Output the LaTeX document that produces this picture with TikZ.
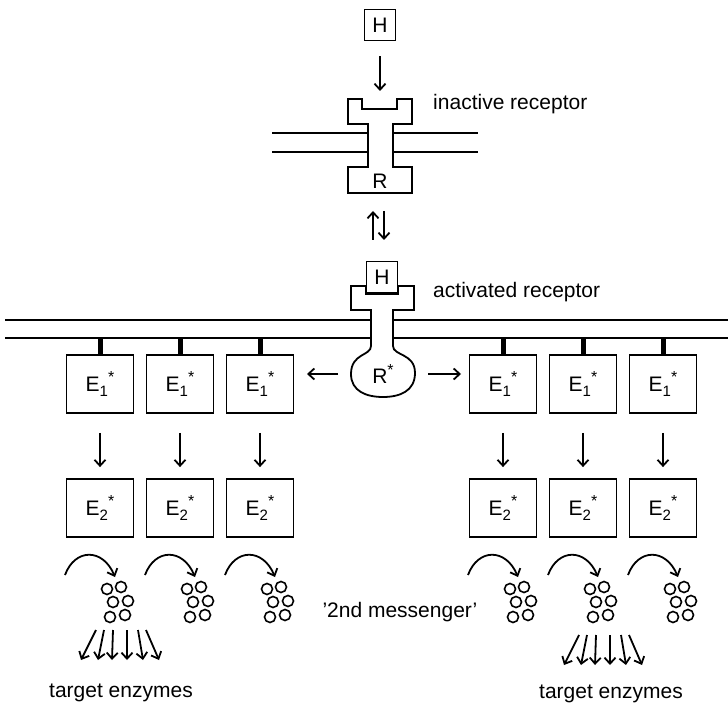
\documentclass[tikz,border=0pt]{standalone}
\usepackage{fontspec}
\setmainfont{Liberation Sans}
\usetikzlibrary{arrows.meta, positioning, calc}
\newcommand{\enz}[1]{E\raisebox{-0.45ex}{\fontsize{15}{15}\selectfont #1}\raisebox{0.75ex}{\fontsize{16}{16}\selectfont *}}

\begin{document}
\begin{tikzpicture}[x=1pt, y=-1pt, line width=1.8pt, >={Straight Barb[length=6pt,width=11pt]},
    ebox/.style={draw, fill=white, minimum width=67pt, minimum height=58pt, inner sep=0pt, font=\fontsize{21}{24}\selectfont},
    hbox/.style={draw, fill=white, minimum size=31pt, inner sep=0pt, font=\fontsize{21}{21}\selectfont},
    lbl/.style={font=\fontsize{21}{24}\selectfont},
    bead/.style={line width=1.6pt}]
    \useasboundingbox (0,0) rectangle (728,708);

    % hormon und inaktiver Rezeptor
    \node[hbox] (h0) at (380,25) {H};
    \coordinate (rtop) at (380,91);
    \draw[->, shorten <=15pt] (h0) -- (rtop);
    \draw (272,133) -- (478,133) (272,152) -- (478,152);
    \draw[fill=white] (348,99) -- (362,99) -- (362,109) -- (397,109) -- (397,99) -- (412,99) -- (412,124) -- (393,124) -- (393,167) -- (412,167) -- (412,193) -- (348,193) -- (348,167) -- (368,167) -- (368,124) -- (348,124) -- cycle;
    \node[lbl] (r0) at (380,181) {R};
    \node[lbl, anchor=west] (t0) at (429,104) {inactive receptor};

    % Gleichgewicht
    \coordinate (eqa) at (373,240);
    \coordinate (eqb) at (373,211);
    \draw[->] (eqa) -- (eqb);
    \draw[->] ([xshift=11pt]eqb) -- ([xshift=11pt]eqa);

    % aktivierter Rezeptor
    \draw (5,320) -- (728,320) (5,338) -- (728,338);
    \draw[fill=white] (351,286) -- (366,286) -- (366,294) -- (398,294) -- (398,286) -- (414,286) -- (414,310) -- (393,310) -- (393,346)
        .. controls (393,356) and (415,353) .. (415,373)
        .. controls (415,391) and (400,397) .. (383,397)
        .. controls (366,397) and (351,391) .. (351,374)
        .. controls (351,353) and (371,356) .. (371,346) -- (371,310) -- (351,310) -- cycle;
    \node[hbox] (h1) at (382,277) {H};
    \node[lbl] (rstar) at (383,374) {R\raisebox{0.75ex}{\fontsize{16}{16}\selectfont *}};
    \node[lbl, anchor=west] (t1) at (429,292) {activated receptor};
    \draw[->] ([xshift=-45pt]rstar.center) -- ([xshift=-76pt]rstar.center);
    \draw[->] ([xshift=45pt]rstar.center) -- ([xshift=78pt]rstar.center);

    % Enzyme, Botenstoffe
    \foreach \n/\x in {a/100,b/180,c/260,d/503,e/583,f/663} {
        \node[ebox] (e1\n) at (\x,384) {\enz{1}};
        \node[ebox] (e2\n) at (\x,508) {\enz{2}};
        \draw[line width=5pt] (e1\n.north) -- (\x,338);
        \draw[->, shorten <=19pt, shorten >=11pt] (e1\n) -- (e2\n);
        \draw[->] (\x-35,575) .. controls (\x-25,548) and (\x+3,548) .. (\x+15,577);
        \foreach \dx/\dy in {7/589,21/587,13/602,28/601,10/617,25/615}
            \draw[bead] (\x+\dx,\dy) circle (5.5);
    }
    \foreach \x/\y in {100/630,583/635}
        \foreach \s/\e in {-4/-19,4/-2,13/12,27/27,38/43,46/59}
            \draw[->] (\x+\s,\y) -- (\x+\e,\y+30);

    \node[lbl] (msg) at (400,612) {'2nd messenger'};
    \node[lbl] (tg1) at (121,693) {target enzymes};
    \node[lbl] (tg2) at (611,694) {target enzymes};
\end{tikzpicture}
\end{document}
